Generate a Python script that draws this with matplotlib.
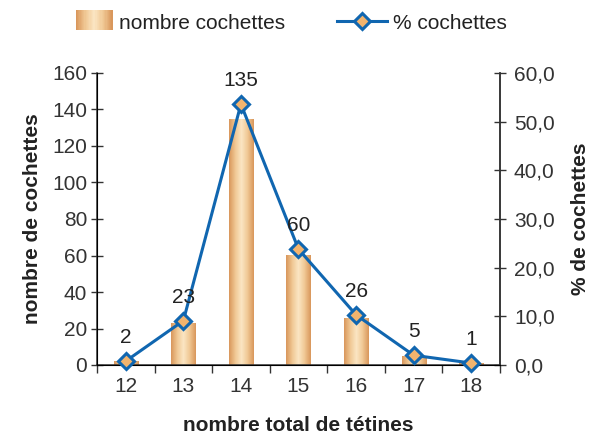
import numpy as np
import matplotlib
matplotlib.use("Agg")
import matplotlib.pyplot as plt
from matplotlib.patches import Rectangle
from matplotlib.legend_handler import HandlerBase
from matplotlib.lines import Line2D
from matplotlib.colors import LinearSegmentedColormap
from matplotlib.ticker import FuncFormatter, MultipleLocator

plt.rcParams["font.family"] = ["Liberation Sans", "DejaVu Sans"]

# --- data ---
tetines = ["12", "13", "14", "15", "16", "17", "18"]
nb_cochettes = [2, 23, 135, 60, 26, 5, 1]
pct_cochettes = [0.8, 9.1, 53.6, 23.8, 10.3, 2.0, 0.4]

blue = "#1066B0"
dark = "#333333"
# orange -> cream -> orange, like the excel gradient fill
grad = LinearSegmentedColormap.from_list(
    "bar", ["#D9975C", "#F0C894", "#FBE6C4", "#F0C894", "#D9975C"])


class GradientHandler(HandlerBase):
    # legend swatch drawn as thin vertical strips (right part of the handle box)
    def create_artists(self, legend, orig, x0, y0, w, h, fs, trans):
        n = 30
        sw = 0.74 * w
        sx = x0 + w - sw
        sh = 1.25 * h
        sy = y0 + h / 2 - sh / 2
        out = []
        for i in range(n):
            r = Rectangle((sx + sw * i / n, sy), sw / n * 1.05, sh,
                          facecolor=grad(i / (n - 1)), edgecolor="none",
                          transform=trans)
            out.append(r)
        return out


fig = plt.figure(figsize=(5.94, 4.37), dpi=100)
ax = fig.add_axes([97 / 594, 1 - 365 / 437, 403 / 594, 292 / 437])
x = np.arange(len(tetines))

bars = ax.bar(x, nb_cochettes, width=0.42, color="none", edgecolor="none", zorder=2)
gimg = np.linspace(0, 1, 64).reshape(1, -1)
for b in bars:
    bx, by = b.get_x(), b.get_y()
    im = ax.imshow(gimg, cmap=grad, aspect="auto", zorder=2,
                   extent=(bx, bx + b.get_width(), by, by + b.get_height()))
    im.set_clip_path(b)

ax.set_xlim(-0.5, len(tetines) - 0.5)
ax.set_ylim(0, 160)
ax.yaxis.set_major_locator(MultipleLocator(20))
ax.set_xticks(x)
ax.set_xticklabels(tetines)
ax.set_xticks(np.arange(-0.5, len(tetines)), minor=True)
ax.tick_params(axis="x", which="major", length=0, pad=9, labelsize=15, colors=dark)
ax.tick_params(axis="x", which="minor", length=6, direction="out", color=dark, width=1)
ax.tick_params(axis="y", length=8, direction="inout", pad=3, labelsize=15,
               colors=dark, width=1)
ax.spines["top"].set_visible(False)
for s in ("left", "bottom", "right"):
    ax.spines[s].set_color(dark)
    ax.spines[s].set_linewidth(1.1)

ax2 = ax.twinx()
ax2.set_ylim(0, 60)
ax2.yaxis.set_major_locator(MultipleLocator(10))
ax2.yaxis.set_major_formatter(FuncFormatter(lambda v, p: f"{v:.1f}".replace(".", ",")))
ax2.tick_params(axis="y", length=8, direction="inout", pad=6, labelsize=15,
                colors=dark, width=1)
ax2.spines["top"].set_visible(False)
ax2.spines["right"].set_color(dark)
ax2.spines["right"].set_linewidth(1.1)
ax2.plot(x, pct_cochettes, color=blue, lw=2.2, marker="D", ms=8.5,
         mfc="#F2B46E", mec=blue, mew=2.2, clip_on=False, zorder=3)

for xi, p, n in zip(x, pct_cochettes, nb_cochettes):
    ax2.annotate(str(n), (xi, p), xytext=(0, 17), textcoords="offset points",
                 ha="center", va="center", fontsize=15, color="#222222")

ax.set_xlabel("nombre total de tétines", fontsize=15, fontweight="bold",
              labelpad=14, color="#222222")
ax.set_ylabel("nombre de cochettes", fontsize=15, fontweight="bold",
              labelpad=7, color="#222222")
ax2.set_ylabel("% de cochettes", fontsize=15, fontweight="bold",
               labelpad=12, color="#222222")

h1 = Rectangle((0, 0), 1, 1)
h2 = Line2D([], [], color=blue, lw=2.2, marker="D", ms=8.5, mfc="#F2B46E",
            mec=blue, mew=2.2)
fig.legend([h1, h2], ["nombre cochettes", "% cochettes"], ncol=2,
           loc="center", bbox_to_anchor=(285 / 594, 1 - 23 / 437),
           frameon=False, fontsize=15, handler_map={Rectangle: GradientHandler()},
           handlelength=2.4, handleheight=0.8, handletextpad=0.3,
           columnspacing=2.5, labelcolor="#222222")

fig.savefig("out.png", dpi=100)
